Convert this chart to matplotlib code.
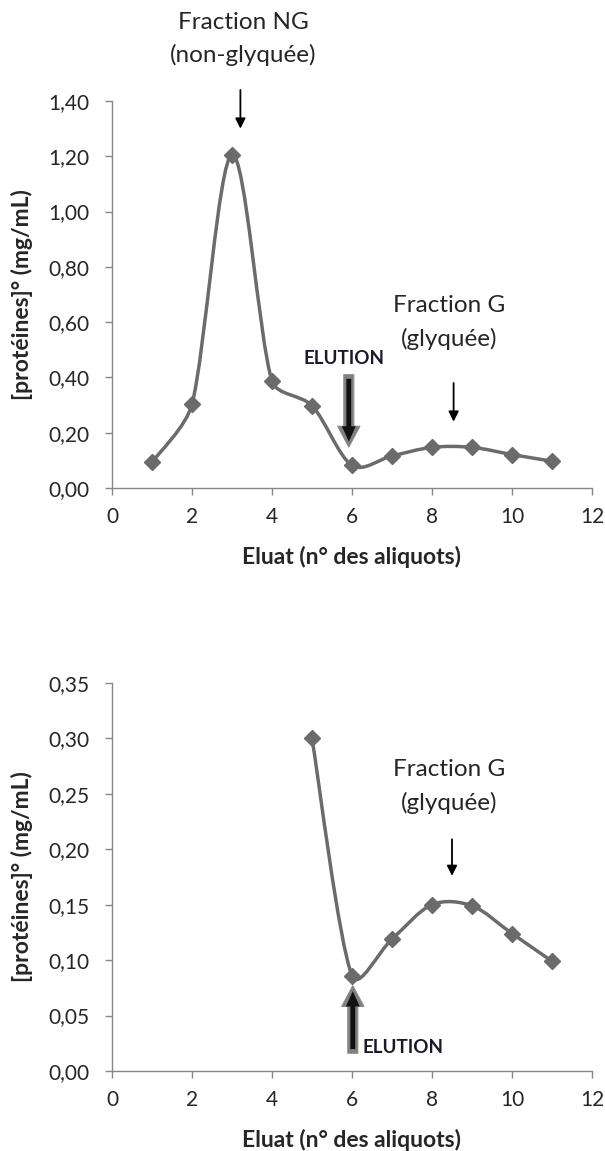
import numpy as np
import matplotlib
matplotlib.use("Agg")
import matplotlib.pyplot as plt
from matplotlib.path import Path
from matplotlib.patches import PathPatch

# ---- data ----
x_top = [1, 2, 3, 4, 5, 6, 7, 8, 9, 10, 11]
y_top = [0.093, 0.303, 1.205, 0.387, 0.298, 0.082, 0.116, 0.147, 0.147, 0.121, 0.097]
x_bot = [5, 6, 7, 8, 9, 10, 11]
y_bot = [0.300, 0.086, 0.119, 0.150, 0.149, 0.124, 0.099]
xticks = [0, 2, 4, 6, 8, 10, 12]
yticks_top = [0.0, 0.2, 0.4, 0.6, 0.8, 1.0, 1.2, 1.4]
yticks_bot = [0.0, 0.05, 0.10, 0.15, 0.20, 0.25, 0.30, 0.35]
ylabel = "[protéines]° (mg/mL)"
xlabel = "Eluat (n° des aliquots)"

FONT = "Lato"
LINE_C = "#6b6b6b"
SPINE_C = "#868686"
TXT_C = "#262626"


def smooth_path(ax, x, y):
    """Smoothed line (Excel-like) built in display space, returned in data space."""
    pts = ax.transData.transform(np.column_stack([x, y]).astype(float))
    n = len(pts)
    cin = [None] * n
    cout = [None] * n
    for i in range(n):
        p0 = pts[i - 1] if i > 0 else pts[i]
        p2 = pts[i + 1] if i < n - 1 else pts[i]
        p1 = pts[i]
        d = (p2 - p0)
        dl = np.hypot(*d)
        u = d / dl if dl > 0 else d
        base = dl / 6.0
        lp = np.hypot(*(p1 - p0))
        ln = np.hypot(*(p2 - p1))
        cin[i] = p1 - u * min(base, lp / 3.0)
        cout[i] = p1 + u * min(base, ln / 3.0)
    verts = [pts[0]]
    codes = [Path.MOVETO]
    for i in range(n - 1):
        verts += [cout[i], cin[i + 1], pts[i + 1]]
        codes += [Path.CURVE4] * 3
    verts = ax.transData.inverted().transform(np.array(verts))
    return Path(verts, codes)


def style_axes(ax, yticks, ymax):
    ax.set_xlim(0, 12)
    ax.set_ylim(0, ymax)
    ax.set_xticks(xticks)
    ax.set_xticklabels([str(t) for t in xticks])
    ax.set_yticks(yticks)
    ax.set_yticklabels([f"{t:.2f}".replace(".", ",") for t in yticks])
    for s in ("top", "right"):
        ax.spines[s].set_visible(False)
    for s in ("left", "bottom"):
        ax.spines[s].set_color(SPINE_C)
        ax.spines[s].set_linewidth(1.0)
    ax.tick_params(axis="both", direction="out", length=5, width=1.0,
                   color=SPINE_C, labelsize=15, labelcolor=TXT_C)
    ax.tick_params(axis="x", pad=9)
    ax.tick_params(axis="y", pad=11)
    for lab in ax.get_xticklabels() + ax.get_yticklabels():
        lab.set_family(FONT)
    ax.set_ylabel(ylabel, fontsize=16.5, fontweight="bold", family=FONT,
                  color=TXT_C, labelpad=11)
    ax.set_xlabel(xlabel, fontsize=16.5, fontweight="bold", family=FONT,
                  color=TXT_C, labelpad=13)


def draw_series(ax, x, y):
    ax.add_patch(PathPatch(smooth_path(ax, x, y), fill=False, ec=LINE_C,
                           lw=2.5, zorder=3, capstyle="round",
                           joinstyle="round"))
    ax.plot(x, y, linestyle="none", marker="D", ms=8.5, mfc=LINE_C,
            mec=LINE_C, zorder=4)


def thin_arrow(ax, x, y0, y1):
    ax.annotate("", xy=(x, y1), xytext=(x, y0),
                arrowprops=dict(arrowstyle="-|>", color="black", lw=1.3,
                                mutation_scale=15, shrinkA=0, shrinkB=0),
                annotation_clip=False, zorder=5)


def thick_arrow(ax, x, y0, y1):
    ax.annotate("", xy=(x, y1), xytext=(x, y0),
                arrowprops=dict(arrowstyle="simple,head_width=1.6,head_length=1.5,tail_width=0.72",
                                fc="#808080", ec="#8a8a8a", lw=0.8,
                                mutation_scale=10, shrinkA=0, shrinkB=0),
                annotation_clip=False, zorder=5)
    ax.annotate("", xy=(x, y1), xytext=(x, y0),
                arrowprops=dict(arrowstyle="simple,head_width=1.0,head_length=1.1,tail_width=0.35",
                                fc="#111111", ec="none", lw=0,
                                mutation_scale=10, shrinkA=3, shrinkB=4),
                annotation_clip=False, zorder=6)


fig = plt.figure(figsize=(6.05, 11.51), dpi=100)

# ---- top chart ----
ax1 = fig.add_axes([112 / 605, 1 - 488 / 1151, 480 / 605, 387 / 1151])
style_axes(ax1, yticks_top, 1.40)
draw_series(ax1, x_top, y_top)
ax1.text(3.29, 1.685, "Fraction NG", ha="center", va="center", fontsize=17.5,
         family=FONT, color=TXT_C)
ax1.text(3.29, 1.565, "(non-glyquée)", ha="center", va="center", fontsize=17.5,
         family=FONT, color=TXT_C)
thin_arrow(ax1, 3.21, 1.44, 1.30)
ax1.text(8.42, 0.66, "Fraction G", ha="center", va="center", fontsize=17.5,
         family=FONT, color=TXT_C)
ax1.text(8.42, 0.54, "(glyquée)", ha="center", va="center", fontsize=17.5,
         family=FONT, color=TXT_C)
thin_arrow(ax1, 8.54, 0.38, 0.24)
ax1.text(5.81, 0.468, "ELUTION", ha="center", va="center", fontsize=13.5,
         fontweight="bold", family=FONT, color="#1a1a2a")
thick_arrow(ax1, 5.92, 0.41, 0.148)

# ---- bottom chart ----
ax2 = fig.add_axes([112 / 605, 1 - 1071 / 1151, 480 / 605, 388 / 1151])
style_axes(ax2, yticks_bot, 0.35)
draw_series(ax2, x_bot, y_bot)
ax2.text(8.42, 0.272, "Fraction G", ha="center", va="center", fontsize=17.5,
         family=FONT, color=TXT_C)
ax2.text(8.42, 0.242, "(glyquée)", ha="center", va="center", fontsize=17.5,
         family=FONT, color=TXT_C)
thin_arrow(ax2, 8.50, 0.209, 0.176)
thick_arrow(ax2, 6.02, 0.016, 0.077)
ax2.text(6.27, 0.0215, "ELUTION", ha="left", va="center", fontsize=13.5,
         fontweight="bold", family=FONT, color="#1a1a2a")

fig.savefig("out.png", dpi=100)
